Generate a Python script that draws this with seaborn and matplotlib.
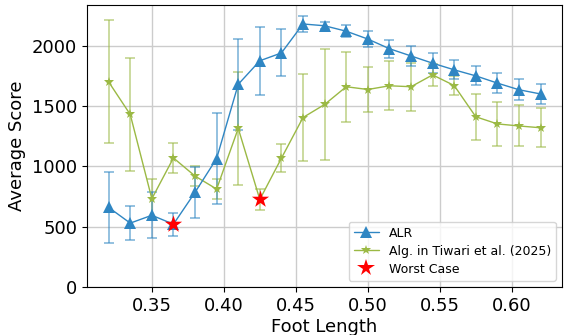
import matplotlib
matplotlib.use("Agg")
import matplotlib.pyplot as plt
import seaborn as sns
import pandas as pd
import numpy as np
from matplotlib.lines import Line2D
from matplotlib.ticker import FormatStrFormatter

# ---- data ----
foot_length = [0.320, 0.335, 0.350, 0.365, 0.380, 0.395, 0.410, 0.425, 0.440, 0.455,
               0.470, 0.485, 0.500, 0.515, 0.530, 0.545, 0.560, 0.575, 0.590, 0.605, 0.620]
alr_mean = [660, 530, 595, 521, 785, 1065, 1680, 1875, 1940, 2180, 2165,
            2120, 2055, 1975, 1915, 1855, 1800, 1750, 1690, 1635, 1600]
alr_err = [295, 143, 190, 97, 212, 375, 375, 280, 195, 63, 30,
           50, 65, 75, 80, 85, 78, 78, 85, 85, 85]
tiw_mean = [1700, 1430, 732, 1070, 920, 812, 1315, 726, 1068, 1405, 1513,
            1660, 1637, 1668, 1660, 1758, 1670, 1411, 1352, 1335, 1320]
tiw_err = [510, 467, 165, 122, 80, 85, 466, 88, 118, 360, 457,
           290, 187, 204, 197, 88, 75, 190, 180, 170, 162]
worst_feet = [0.365, 0.425]   # ALR worst, Tiwari worst
series_names = ["ALR", "Alg. in Tiwari et al. (2025)", "Worst Case"]
x_ticks = [0.35, 0.40, 0.45, 0.50, 0.55, 0.60]
y_ticks = [0, 500, 1000, 1500, 2000]

blue = "#2f86c3"
green = "#9bb944"

sns.set_style("white")
plt.rcParams["font.family"] = ["DejaVu Sans"]
plt.rcParams["text.color"] = "black"
plt.rcParams["axes.labelcolor"] = "black"
plt.rcParams["xtick.color"] = "black"
plt.rcParams["ytick.color"] = "black"

fig, ax = plt.subplots(figsize=(5.69, 3.35), dpi=100)
fig.subplots_adjust(left=0.153, right=0.988, top=0.985, bottom=0.143)

df = pd.DataFrame({
    "Foot Length": foot_length * 2,
    "Average Score": alr_mean + tiw_mean,
    "method": [series_names[0]] * len(foot_length) + [series_names[1]] * len(foot_length),
})

ax.grid(True, color="#cccccc", linewidth=1.0, zorder=0)
ax.set_axisbelow(True)

# error bars
ax.errorbar(foot_length, tiw_mean, yerr=tiw_err, fmt="none", ecolor=green,
            alpha=0.6, elinewidth=1.2, capsize=3.5, capthick=1.2, zorder=2)
ax.errorbar(foot_length, alr_mean, yerr=alr_err, fmt="none", ecolor=blue,
            alpha=0.6, elinewidth=1.2, capsize=3.5, capthick=1.2, zorder=3)

sns.lineplot(data=df[df["method"] == series_names[1]], x="Foot Length", y="Average Score",
             color=green, marker="*", markersize=7, markeredgewidth=0, linewidth=1.0,
             ax=ax, zorder=4, legend=False)
sns.lineplot(data=df[df["method"] == series_names[0]], x="Foot Length", y="Average Score",
             color=blue, marker="^", markersize=8, markeredgewidth=0, linewidth=1.0,
             ax=ax, zorder=5, legend=False)

# worst-case points
wx = [worst_feet[0], worst_feet[1]]
wy = [alr_mean[foot_length.index(worst_feet[0])], tiw_mean[foot_length.index(worst_feet[1])]]
sns.scatterplot(x=wx, y=wy, color="red", marker="*", s=170, linewidth=0, ax=ax, zorder=6,
                legend=False)

ax.set_xlim(0.305, 0.635)
ax.set_ylim(bottom=0)
ax.set_xticks(x_ticks)
ax.set_yticks(y_ticks)
ax.xaxis.set_major_formatter(FormatStrFormatter("%.2f"))
ax.tick_params(axis="both", labelsize=13, length=3.5, width=0.8, color="black",
               labelcolor="black", bottom=True, left=True)
ax.set_xlabel("Foot Length", fontsize=13, labelpad=2, color="black")
ax.set_ylabel("Average Score", fontsize=13, labelpad=4, color="black")
for s in ax.spines.values():
    s.set_color("black")
    s.set_linewidth(0.8)

handles = [
    Line2D([], [], color=blue, marker="^", markersize=8, markeredgewidth=0, linewidth=1.0),
    Line2D([], [], color=green, marker="*", markersize=7, markeredgewidth=0, linewidth=1.0),
    Line2D([], [], color="red", marker="*", markersize=13, markeredgewidth=0, linestyle="none"),
]
leg = ax.legend(handles, series_names, loc="lower right", fontsize=9, frameon=True,
                framealpha=0.8, edgecolor="#cccccc", fancybox=True, borderpad=0.4,
                labelspacing=0.4, handlelength=2.0)
for t in leg.get_texts():
    t.set_color("black")

fig.savefig("out.png", dpi=100)
